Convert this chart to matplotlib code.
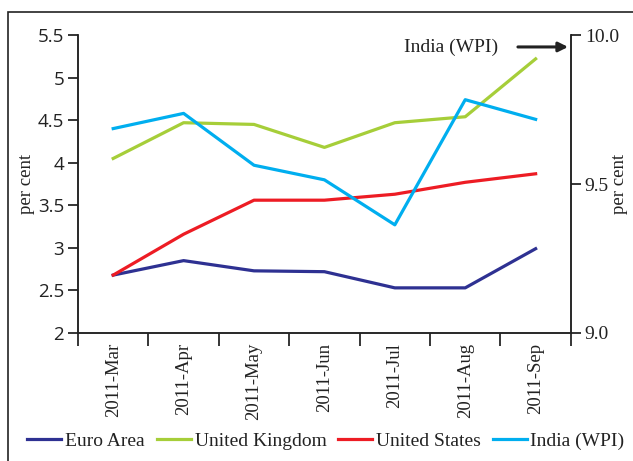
import matplotlib
matplotlib.use("Agg")
import matplotlib.pyplot as plt
from matplotlib.patches import Rectangle

months = ["2011-Mar", "2011-Apr", "2011-May", "2011-Jun", "2011-Jul", "2011-Aug", "2011-Sep"]
euro_area = [2.68, 2.85, 2.73, 2.72, 2.53, 2.53, 2.99]
united_kingdom = [4.05, 4.47, 4.45, 4.18, 4.47, 4.54, 5.22]
united_states = [2.68, 3.16, 3.56, 3.56, 3.63, 3.77, 3.87]
india_wpi = [9.686, 9.737, 9.563, 9.514, 9.363, 9.783, 9.717]

left_ticks = [2, 2.5, 3, 3.5, 4, 4.5, 5, 5.5]
left_labels = ["2", "2.5", "3", "3.5", "4", "4.5", "5", "5.5"]
right_ticks = [9.0, 9.5, 10.0]
right_labels = ["9.0", "9.5", "10.0"]

serif = "Liberation Serif"
sans = "Open Sans"
ink = "#222222"

fig = plt.figure(figsize=(6.33, 4.61), dpi=100)
ax = fig.add_axes([0.1232, 0.2777, 0.7786, 0.6463])
ax2 = ax.twinx()

x = list(range(len(months)))
l1, = ax.plot(x, euro_area, color="#2e3192", lw=2.3)
l2, = ax.plot(x, united_kingdom, color="#a6ce39", lw=2.3)
l3, = ax.plot(x, united_states, color="#ed1c24", lw=2.3)
l4, = ax2.plot(x, india_wpi, color="#00aeef", lw=2.3)

ax.set_xlim(-0.5, len(months) - 0.5)
ax.set_ylim(2, 5.5)
ax2.set_ylim(9.0, 10.0)

ax.set_yticks(left_ticks)
ax.set_yticklabels(left_labels, fontfamily=sans, fontsize=13.5, color=ink)
ax2.set_yticks(right_ticks)
ax2.set_yticklabels(right_labels, fontfamily=serif, fontsize=14, color=ink)

# category labels centred, tick marks at the boundaries
ax.set_xticks(x)
ax.set_xticklabels(months, rotation=90, fontfamily=serif, fontsize=13.5, color=ink)
ax.tick_params(axis="x", which="major", length=0, pad=7)
ax.set_xticks([i - 0.5 for i in range(len(months) + 1)], minor=True)
ax.tick_params(axis="x", which="minor", length=9, width=1.1, direction="out")
ax.tick_params(axis="y", length=7, width=1.1, direction="out", pad=3)
ax2.tick_params(axis="y", length=7, width=1.1, direction="out", pad=3)

for a in (ax, ax2):
    a.spines["top"].set_visible(False)
    for s in ("left", "right", "bottom"):
        a.spines[s].set_linewidth(1.1)
        a.spines[s].set_color(ink)

ax.set_ylabel("per cent", fontfamily=serif, fontsize=13.5, labelpad=2, color=ink)
ax2.set_ylabel("per cent", fontfamily=serif, fontsize=13.5, color=ink,
               rotation=90, va="center")
ax2.yaxis.set_label_coords(1.098, 0.5)

# arrow and label for the right axis
ax2.annotate("", xy=(1.0, 9.96), xycoords=("axes fraction", "data"),
             xytext=(0.887, 9.96), textcoords=("axes fraction", "data"),
             arrowprops=dict(arrowstyle="-|>", color=ink, lw=2.2, mutation_scale=14),
             annotation_clip=False)
ax2.text(0.853, 9.96, "India (WPI)", transform=ax2.get_yaxis_transform(which="grid"),
         fontfamily=serif, fontsize=14, ha="right", va="center", color=ink)

fig.legend([l1, l2, l3, l4], ["Euro Area", "United Kingdom", "United States", "India (WPI)"],
           loc="center", bbox_to_anchor=(0.515, 0.043), ncol=4, frameon=False,
           prop={"family": serif, "size": 14}, handlelength=1.75, handletextpad=0.2,
           columnspacing=0.6, labelcolor=ink)

fig.patches.append(Rectangle((8 / 633, -0.01), 1.0, 1 - 12 / 461 + 0.01,
                             transform=fig.transFigure, fill=False, lw=1.2,
                             edgecolor=ink))

fig.savefig("out.png", dpi=100)
